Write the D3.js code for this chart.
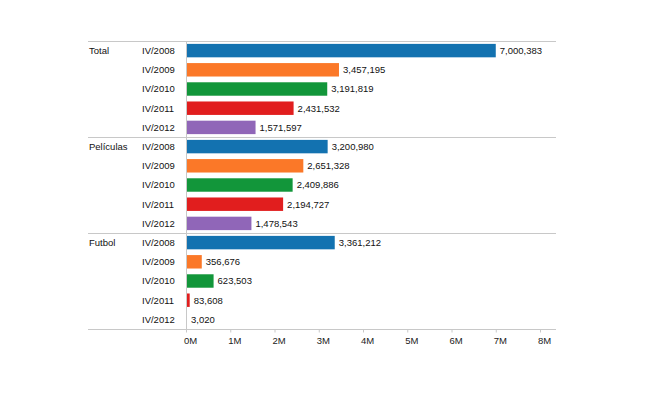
<!DOCTYPE html>
<html>
<head>
<meta charset="utf-8">
<script src="https://cdn.jsdelivr.net/npm/d3@7"></script>
<style>
  body { margin: 0; background: #fff; }
  text { font-family: "Liberation Sans", Arial, sans-serif; font-size: 9.5px; fill: #111; }
</style>
</head>
<body>
<div id="chart"></div>
<script>
const width = 650
const height = 395

const groups = ["Total", "Películas", "Futbol"]
const years = ["IV/2008", "IV/2009", "IV/2010", "IV/2011", "IV/2012"]
const totalValues = [7000383, 3457195, 3191819, 2431532, 1571597]
const peliculasValues = [3200980, 2651328, 2409886, 2194727, 1478543]
const futbolValues = [3361212, 356676, 623503, 83608, 3020]
const tickValues = [0, 1e6, 2e6, 3e6, 4e6, 5e6, 6e6, 7e6, 8e6]
const colors = ["#1372b0", "#fb7828", "#12963a", "#e11e1e", "#9066b8"]

const seriesByGroup = [totalValues, peliculasValues, futbolValues]

// flatten into rows
const rows = []
groups.forEach((g, gi) => {
    years.forEach((y, yi) => {
        rows.push({ group: g, year: y, value: seriesByGroup[gi][yi], yi: yi, gi: gi })
    })
})

const svg = d3.select('#chart').append('svg')
    .attr('width', width)
    .attr('height', height)

const plotLeft = 88, plotRight = 556, plotTop = 41, plotBottom = 329

const xScale = d3.scaleLinear()
    .domain([0, 8e6])
    .range([186, 540])

const yScale = d3.scaleBand()
    .domain(rows.map((d, i) => i))
    .range([plotTop, plotBottom])
    .paddingInner(0.3)
    .paddingOuter(0.15)

const rowH = (plotBottom - plotTop) / rows.length

// separators between groups
const sepY = [0, 1, 2, 3].map(i => plotTop + i * 5 * rowH)
svg.selectAll('.sep')
    .data(sepY)
    .enter().append('line')
    .attr('class', 'sep')
    .attr('x1', plotLeft).attr('x2', plotRight)
    .attr('y1', d => Math.round(d) + 0.5).attr('y2', d => Math.round(d) + 0.5)
    .style('stroke', '#c8c8c8')
    .style('stroke-width', 1)

// zero line
svg.append('line')
    .attr('x1', xScale(0) + 0.5).attr('x2', xScale(0) + 0.5)
    .attr('y1', plotTop).attr('y2', plotBottom + 1)
    .style('stroke', '#c8c8c8')

// bars
svg.selectAll('.bar')
    .data(rows)
    .enter().append('rect')
    .attr('class', 'bar')
    .attr('x', xScale(0) + 1)
    .attr('y', (d, i) => yScale(i))
    .attr('width', d => Math.max(0, xScale(d.value) - xScale(0) - 1))
    .attr('height', yScale.bandwidth())
    .style('fill', d => colors[d.yi])

// value labels
svg.selectAll('.val')
    .data(rows)
    .enter().append('text')
    .attr('class', 'val')
    .attr('x', d => Math.max(xScale(d.value), xScale(0) + 1) + 4)
    .attr('y', (d, i) => yScale(i) + yScale.bandwidth() / 2)
    .attr('dy', '0.35em')
    .text(d => d3.format(",")(d.value))

// year labels
svg.selectAll('.year')
    .data(rows)
    .enter().append('text')
    .attr('class', 'year')
    .attr('x', 142)
    .attr('y', (d, i) => yScale(i) + yScale.bandwidth() / 2)
    .attr('dy', '0.35em')
    .text(d => d.year)

// group labels
svg.selectAll('.group')
    .data(rows.filter(d => d.yi === 0))
    .enter().append('text')
    .attr('class', 'group')
    .attr('x', 89)
    .attr('y', d => yScale(d.gi * 5) + yScale.bandwidth() / 2)
    .attr('dy', '0.35em')
    .text(d => d.group)

// x axis
const xAxis = d3.axisBottom(xScale)
    .tickValues(tickValues)
    .tickSize(3)
    .tickPadding(5)
    .tickFormat(d => (d / 1e6) + 'M')

const ax = svg.append('g')
    .attr('transform', `translate(0, ${Math.round(plotBottom) + 0.5})`)
    .call(xAxis)
ax.select('.domain').remove()
ax.selectAll('.tick line').style('stroke', '#c8c8c8')
ax.selectAll('.tick text')
    .attr('dx', 4)
    .style('font-size', '9.5px')
    .style('fill', '#222')
</script>
</body>
</html>
